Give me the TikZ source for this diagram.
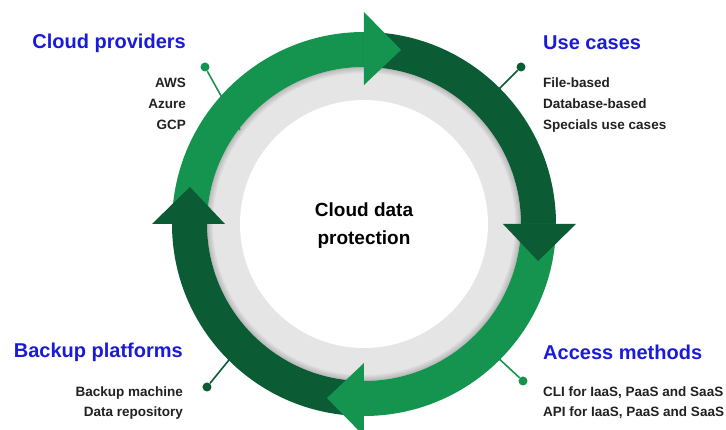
\documentclass[tikz,border=0pt]{standalone}
\usepackage{fontspec}
\setmainfont{Liberation Sans}
\definecolor{ringlight}{HTML}{15944F}
\definecolor{ringdark}{HTML}{0B5C35}
\definecolor{ringgray}{HTML}{E5E5E5}
\definecolor{titleblue}{HTML}{1A1ADB}
% one quarter of the green ring, and its arrow head
\newcommand{\ringband}[3]{\fill[#1] (#2:192) arc[start angle=#2, end angle=#3, radius=192] -- (#3:157) arc[start angle=#3, end angle=#2, radius=157] -- cycle;}
\newcommand{\ringtip}[2]{\fill[#1] (#2:139) -- (#2:212) -- ({#2-12}:178) -- cycle;}
\begin{document}
\begin{tikzpicture}[x=1pt, y=1pt,
  title/.style={font=\bfseries\fontsize{20}{24}\selectfont, text=titleblue, inner sep=0},
  item/.style={font=\bfseries\fontsize{13.5}{16}\selectfont, text=black!87, inner sep=0},
  pin/.style={circle, fill=#1, inner sep=0, minimum size=9pt},
  leader/.style={line width=1.6pt, draw=#1}]
\useasboundingbox (-364,-206) rectangle (362,224);
% grey ring with a soft shadow under the green one
\fill[ringgray] (0,0) circle[radius=157];
\foreach \d in {2,4,...,12}
  \draw[black, opacity=0.03, line width=\d pt] (0,0) circle[radius=157];
\fill[white] (0,0) circle[radius=124];
% pins
\node[pin=ringlight] (cppin) at (-159,157) {};
\node[pin=ringdark] (ucpin) at (157,157) {};
\node[pin=ringdark] (bppin) at (-157,-163) {};
\node[pin=ringlight] (ampin) at (159,-157) {};
\coordinate (cpend) at (-124,94);
\coordinate (ucend) at (45:185);
\coordinate (bpend) at (225:185);
\coordinate (amend) at (-45:185);
\draw[leader=ringlight] (cppin) -- (cpend);
\draw[leader=ringdark] (ucpin) -- (ucend);
\draw[leader=ringdark] (bppin) -- (bpend);
\draw[leader=ringlight] (ampin) -- (amend);
% the ring
\ringband{ringlight}{180}{90}
\ringband{ringdark}{90}{0}
\ringband{ringlight}{0}{-90}
\ringband{ringdark}{-90}{-180}
\ringtip{ringlight}{90}
\ringtip{ringdark}{0}
\ringtip{ringlight}{-90}
\ringtip{ringdark}{180}
% texts
\node[align=center, font=\bfseries\fontsize{19}{28}\selectfont] (core) at (0,-2) {Cloud data\\protection};
\node[title, anchor=east] (cp) at (-178,181) {Cloud providers};
\node[title, anchor=west] (uc) at (179,181) {Use cases};
\node[title, anchor=east] (bp) at (-181,-128) {Backup platforms};
\node[title, anchor=west] (am) at (179,-128) {Access methods};
\foreach \t [count=\i] in {AWS, Azure, GCP}
  \node[item, anchor=base east] (cp\i) at (-178,157-21*\i) {\t};
\foreach \t [count=\i] in {File-based, Database-based, Specials use cases}
  \node[item, anchor=base west] (uc\i) at (179,157-21*\i) {\t};
\foreach \t [count=\i] in {Backup machine, Data repository}
  \node[item, anchor=base east] (bp\i) at (-181,-153-20*\i) {\t};
\foreach \t [count=\i] in {{CLI for IaaS, PaaS and SaaS}, {API for IaaS, PaaS and SaaS}}
  \node[item, anchor=base west] (am\i) at (179,-153-20*\i) {\t};
\end{tikzpicture}
\end{document}
